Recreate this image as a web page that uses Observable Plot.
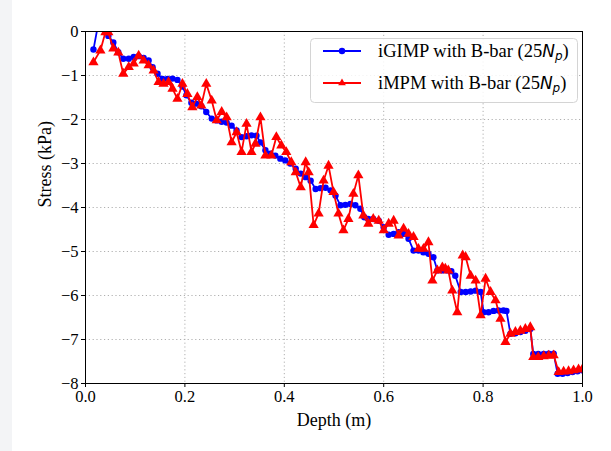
<!DOCTYPE html>
<html>
<head>
<meta charset="utf-8">
<script src="https://cdn.jsdelivr.net/npm/d3@7"></script>
<script src="https://cdn.jsdelivr.net/npm/@observablehq/plot@0.6"></script>
<style>
  html, body { margin: 0; padding: 0; background: #ffffff; }
  body { width: 611px; height: 451px; overflow: hidden; position: relative;
         background: linear-gradient(to right, #f3f4f6 0px, #f3f4f6 12px, #ffffff 12px); }
  #chart { position: absolute; left: 0; top: 0; }
</style>
</head>
<body>
<div id="chart"></div>
<script>
// iGIMP with B-bar (25Np)
const gimpDepth = [0.016,0.026,0.036,0.046,0.056,0.066,0.076,0.087,0.097,0.107,0.117,0.127,0.135,0.145,0.155,0.165,0.175,0.185,0.195,0.203,0.213,0.223,0.233,0.243,0.254,0.264,0.274,0.284,0.294,0.304,0.314,0.324,0.334,0.344,0.352,0.362,0.372,0.382,0.392,0.402,0.412,0.423,0.433,0.443,0.453,0.463,0.473,0.483,0.493,0.503,0.513,0.523,0.533,0.543,0.553,0.561,0.569,0.579,0.590,0.600,0.610,0.620,0.630,0.640,0.650,0.660,0.670,0.680,0.690,0.700,0.708,0.718,0.728,0.736,0.744,0.755,0.765,0.775,0.785,0.795,0.801,0.811,0.821,0.831,0.841,0.847,0.855,0.865,0.875,0.885,0.895,0.901,0.911,0.922,0.932,0.942,0.950,0.960,0.970,0.980,0.990,1.000];
const gimpStress = [-0.41,0.2,0.1,-0.1,-0.25,-0.47,-0.62,-0.62,-0.58,-0.56,-0.6,-0.66,-0.81,-0.96,-1.08,-1.08,-1.07,-1.1,-1.25,-1.45,-1.62,-1.64,-1.7,-1.83,-1.98,-2.02,-2.05,-2.07,-2.14,-2.25,-2.4,-2.38,-2.36,-2.37,-2.52,-2.7,-2.78,-2.82,-2.89,-2.93,-3.0,-3.12,-3.23,-3.31,-3.39,-3.58,-3.56,-3.55,-3.61,-3.73,-3.95,-3.94,-3.92,-3.95,-4.03,-4.22,-4.26,-4.26,-4.3,-4.45,-4.62,-4.6,-4.56,-4.6,-4.71,-4.98,-4.98,-5.02,-5.05,-5.13,-5.43,-5.43,-5.43,-5.45,-5.55,-5.92,-5.92,-5.91,-5.89,-5.92,-6.38,-6.38,-6.35,-6.34,-6.34,-6.35,-6.87,-6.86,-6.83,-6.8,-6.76,-7.33,-7.33,-7.33,-7.32,-7.32,-7.78,-7.78,-7.76,-7.74,-7.72,-7.7];

// iMPM with B-bar (25Np)
const mpmDepth = [0.016,0.030,0.040,0.046,0.056,0.066,0.076,0.087,0.097,0.107,0.117,0.127,0.137,0.147,0.157,0.167,0.175,0.185,0.195,0.205,0.215,0.225,0.233,0.243,0.254,0.264,0.274,0.284,0.294,0.304,0.314,0.324,0.334,0.342,0.352,0.362,0.374,0.384,0.394,0.404,0.414,0.423,0.433,0.443,0.449,0.459,0.469,0.479,0.489,0.499,0.509,0.519,0.529,0.539,0.549,0.559,0.569,0.579,0.590,0.600,0.610,0.620,0.630,0.640,0.650,0.660,0.670,0.680,0.690,0.698,0.708,0.718,0.724,0.730,0.738,0.748,0.759,0.765,0.775,0.785,0.795,0.805,0.815,0.825,0.835,0.845,0.855,0.865,0.875,0.885,0.895,0.901,0.911,0.922,0.932,0.942,0.952,0.962,0.972,0.982,0.992,1.000];
const mpmStress = [-0.70,-0.43,-0.02,-0.02,-0.39,-0.48,-0.96,-0.81,-0.73,-0.55,-0.66,-0.77,-0.89,-1.15,-1.19,-1.15,-1.30,-1.53,-1.19,-1.42,-1.72,-1.49,-1.68,-1.19,-1.57,-2.02,-1.83,-1.95,-2.52,-2.29,-2.74,-2.10,-2.74,-2.55,-1.95,-2.82,-2.82,-2.40,-2.59,-2.74,-2.97,-3.20,-3.54,-2.97,-3.20,-4.40,-4.14,-3.39,-3.05,-3.65,-4.14,-4.52,-4.26,-3.69,-3.27,-4.18,-4.37,-4.26,-4.30,-4.52,-4.37,-4.30,-4.64,-4.48,-4.60,-4.67,-4.94,-4.94,-4.79,-5.66,-5.43,-5.36,-5.39,-5.43,-5.89,-6.38,-5.09,-5.13,-5.55,-5.66,-6.45,-5.62,-5.92,-6.11,-6.53,-7.06,-6.87,-6.83,-6.80,-6.76,-6.72,-7.40,-7.40,-7.38,-7.37,-7.36,-7.74,-7.73,-7.72,-7.70,-7.68,-7.67];

const xTicks = [0, 0.2, 0.4, 0.6, 0.8, 1.0];
const yTicks = [-8, -7, -6, -5, -4, -3, -2, -1, 0];
const seriesNames = ["iGIMP with B-bar (25", "iMPM with B-bar (25"];
const seriesColors = ["#0000ff", "#ff0000"];

const gimp = gimpDepth.map((d, i) => ({depth: d, stress: gimpStress[i]}));
const mpm = mpmDepth.map((d, i) => ({depth: d, stress: mpmStress[i]}));

const serif = "'Liberation Serif', 'Times New Roman', serif";

const chart = Plot.plot({
  width: 611,
  height: 451,
  marginLeft: 85,
  marginRight: 29,
  marginTop: 31,
  marginBottom: 68,
  style: {fontFamily: serif, fontSize: "16px", background: "transparent", color: "black"},
  x: {domain: [0, 1]},
  y: {domain: [-8, 0]},
  marks: [
    Plot.gridX(xTicks.slice(1, -1), {stroke: "#b0b0b0", strokeOpacity: 1, strokeDasharray: "1.2,2.6", strokeWidth: 1}),
    Plot.gridY(yTicks.slice(1, -1), {stroke: "#b0b0b0", strokeOpacity: 1, strokeDasharray: "1.2,2.6", strokeWidth: 1}),
    Plot.axisX(xTicks, {tickFormat: d3.format(".1f"), tickSize: 4, tickPadding: 3, fontSize: 16.5, label: null}),
    Plot.axisY(yTicks, {tickFormat: d => d === 0 ? "0" : "\u2212" + Math.abs(d), tickSize: 4, tickPadding: 3, fontSize: 16.5, label: null}),
    Plot.line(gimp, {x: "depth", y: "stress", stroke: seriesColors[0], strokeWidth: 1.8, clip: true}),
    Plot.dot(gimp, {x: "depth", y: "stress", fill: seriesColors[0], r: 3.2, symbol: "circle", clip: true}),
    Plot.line(mpm, {x: "depth", y: "stress", stroke: seriesColors[1], strokeWidth: 1.8, clip: true}),
    Plot.dot(mpm, {x: "depth", y: "stress", fill: seriesColors[1], r: 3.8, symbol: "triangle", clip: true}),
    Plot.frame({stroke: "black", strokeWidth: 1}),
    Plot.text(["Depth (m)"], {frameAnchor: "bottom", dy: 42, fontSize: 18, fill: "black"}),
    Plot.text(["Stress (kPa)"], {frameAnchor: "left", dx: -40, rotate: -90, fontSize: 18, fill: "black"})
  ]
});

document.getElementById("chart").appendChild(chart);

// Legend drawn into the same SVG
const svg = d3.select(chart);
const lg = svg.append("g").attr("class", "legend").attr("text-anchor", "start");
lg.append("rect").attr("x", 310.5).attr("y", 38.5).attr("width", 267).attr("height", 64)
  .attr("rx", 4).attr("fill", "white").attr("fill-opacity", 0.85).attr("stroke", "#d4d4d4");
seriesNames.forEach((name, i) => {
  const cy = 51 + i * 32;
  lg.append("line").attr("x1", 323).attr("x2", 361).attr("y1", cy).attr("y2", cy)
    .attr("stroke", seriesColors[i]).attr("stroke-width", 1.8);
  if (i === 0) {
    lg.append("circle").attr("cx", 342).attr("cy", cy).attr("r", 3.2).attr("fill", seriesColors[i]);
  } else {
    lg.append("path").attr("d", d3.symbol(d3.symbolTriangle2, 42)()).attr("transform", `translate(342,${cy})`).attr("fill", seriesColors[i]);
  }
  const t = lg.append("text").attr("x", 378).attr("y", cy + 6).attr("text-anchor", "start")
    .attr("font-family", serif).attr("font-size", 18.5).attr("fill", "black");
  t.append("tspan").text(name);
  t.append("tspan").attr("font-family", "'DejaVu Sans', sans-serif").attr("font-style", "italic").attr("font-size", 17).text("N");
  t.append("tspan").attr("font-family", "'DejaVu Sans', sans-serif").attr("font-style", "italic").attr("font-size", 12).attr("dy", 3).text("p");
  t.append("tspan").attr("dy", -3).text(")");
});
</script>
</body>
</html>
